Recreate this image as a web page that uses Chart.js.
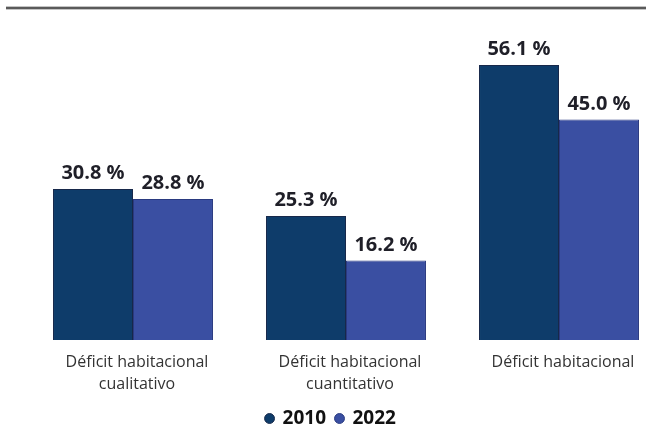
<!DOCTYPE html>
<html>
<head>
<meta charset="utf-8">
<script src="https://cdn.jsdelivr.net/npm/chart.js@4.4.1/dist/chart.umd.min.js"></script>
<style>
html,body{margin:0;padding:0;background:#fff;overflow:hidden;}
#wrap{position:relative;width:646px;height:432px;}
</style>
</head>
<body>
<div id="wrap"><canvas id="c" width="646" height="432"></canvas></div>
<script>
const categories = [
  ['Déficit habitacional', 'cualitativo'],
  ['Déficit habitacional', 'cuantitativo'],
  ['Déficit habitacional']
];
const seriesNames = ['2010', '2022'];
const values2010 = [30.8, 25.3, 56.1];
const values2022 = [28.8, 16.2, 45.0];

const topRule = {
  id: 'topRule',
  beforeDraw(chart) {
    const ctx = chart.ctx;
    ctx.save();
    ctx.fillStyle = '#8a8a8a';
    ctx.fillRect(6, 6.5, 640, 3);
    ctx.fillStyle = '#2a2a2a';
    ctx.fillRect(6, 7.5, 640, 1);
    ctx.restore();
  }
};

const valueLabels = {
  id: 'valueLabels',
  afterDatasetsDraw(chart) {
    const ctx = chart.ctx;
    ctx.save();
    ctx.font = 'bold 20px "Open Sans"';
    ctx.fillStyle = '#1f1f28';
    ctx.textAlign = 'center';
    ctx.textBaseline = 'alphabetic';
    chart.data.datasets.forEach((ds, i) => {
      chart.getDatasetMeta(i).data.forEach((bar, j) => {
        ctx.fillText(ds.data[j].toFixed(1) + ' %', bar.x, bar.y - 10);
      });
    });
    ctx.restore();
  }
};

new Chart(document.getElementById('c'), {
  type: 'bar',
  data: {
    labels: categories,
    datasets: [
      {
        label: seriesNames[0],
        data: values2010,
        backgroundColor: '#0e3c6a',
        borderColor: '#17284a',
        borderWidth: 1,
        clip: false
      },
      {
        label: seriesNames[1],
        data: values2022,
        backgroundColor: '#3a4fa2',
        borderColor: '#2a3a80',
        borderWidth: 1,
        clip: false
      }
    ]
  },
  options: {
    responsive: false,
    animation: false,
    devicePixelRatio: 1,
    categoryPercentage: 0.751,
    barPercentage: 1.0,
    layout: { padding: { top: 46, left: 16, right: 0, bottom: -6 } },
    plugins: {
      tooltip: { enabled: false },
      legend: {
        position: 'bottom',
        labels: {
          usePointStyle: true,
          pointStyle: 'circle',
          boxWidth: 7,
          boxHeight: 7,
          padding: 10,
          color: '#111111',
          font: { family: '"Open Sans"', size: 19, weight: 'bold' }
        }
      }
    },
    scales: {
      x: {
        offset: false,
        grid: { display: false, drawTicks: false },
        border: { display: false },
        ticks: {
          padding: 11,
          labelOffset: 4,
          color: '#333333',
          maxRotation: 0,
          autoSkip: false,
          font: { family: '"Open Sans"', size: 16, lineHeight: 1.4 }
        },
        afterFit(scale) {
          scale.paddingLeft = 133;
          scale.paddingRight = 87;
          const lh = scale.chart.legend ? scale.chart.legend.height : 0;
          scale.height = 432 - 340 - lh + 6;
        }
      },
      y: {
        display: false,
        min: 0,
        max: 60
      }
    }
  },
  plugins: [topRule, valueLabels]
});
</script>
</body>
</html>
